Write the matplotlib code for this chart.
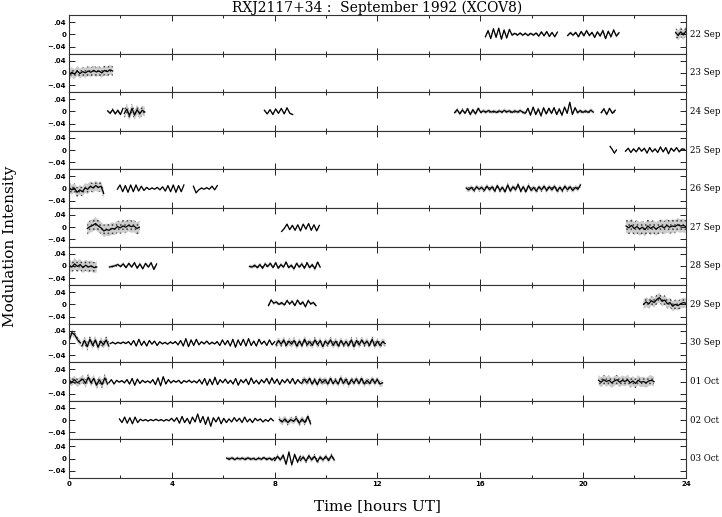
import numpy as np
import matplotlib.pyplot as plt

# -----------------------
# Dados
# valores em milesimos, extremos da oscilacao, espacados igualmente no segmento
# -----------------------
day_labels = ["22 Sep", "23 Sep", "24 Sep", "25 Sep", "26 Sep", "27 Sep",
              "28 Sep", "29 Sep", "30 Sep", "01 Oct", "02 Oct", "03 Oct"]

# (inicio [h], fim [h], ruido, valores)
sep22 = [
    (16.2, 19.0, 4, [-8, 12, -14, 18, -10, 20, -16, 14, -12, 16,
                     -3, 3, -3, 4, -3, 3, -4, 3, -3, 4,
                     -6, 8, -5, 9, -7, 6, -8, 7]),
    (19.4, 21.4, 5, [-4, 5, -3, 6, -8, 9, -5, 12, -4, 6, -10, 8, -6, 12,
                     -14, 10, -8, 14, -6, 5]),
    (23.6, 24.0, 16, [6, -4, 8, -2, 10]),
]
sep23 = [
    (0.0, 1.7, 16, [-6, 2, -4, 6, -2, 4, 0, 6, 2, 8, 3, 6, 0, 8, 4, 10, 6]),
]
sep24 = [
    (1.5, 2.1, 5, [2, -6, 6, -8, 4, -10, 10]),
    (2.15, 2.95, 16, [-6, 8, -14, 10, -12, 6, -8, 4, -2]),
    (7.6, 8.7, 3, [4, -8, 6, -10, 8, -6, 10, -8, 12, -6, -10]),
    (15.0, 20.4, 6, [-4, 6, -8, 5, -6, 9, -10, 6, -8, 10,
                     -3, 2, -2, 3, -2, 1, -3, 2, -2, 3, -1, 2, -3, 2, -2, 3, -2,
                     -6, 10, -12, 14, -10, 8, -14, 12, -8, 10, -6, 12, -10, 8,
                     -12, 14, -6, 30, -10, 12,
                     -4, 3, -3, 2, -3, 4, -2]),
    (20.7, 21.25, 5, [-4, 8, -10, 10, -6, 4]),
]
sep25 = [
    (21.05, 21.3, 2, [12, 2, -10, 0]),
    (21.65, 23.95, 3, [-4, 6, -8, 4, -6, 8, -4, 6, -10, 8, -6, 4, -8, 10,
                       -6, 8, -12, 6, -4, 8, -6, 4, 2]),
]
sep26 = [
    (0.0, 1.35, 16, [4, -4, 2, -12, -4, -10, 2, -2, 8, 2, 10, 4, 8, -16]),
    (1.88, 4.47, 2, [-2, 12, -10, 10, -12, 12, -10, 12, -8, 8, -6, 4, -3,
                     2, -2, 4, -4, 6, -8, 10, -10, 12, -12, 10, -10, 12]),
    (4.84, 5.77, 2, [8, -14, -4, 2, -2, 3, -2, 8, -4, 10]),
    (15.45, 19.9, 8, [2, -4, 4, -6, 6, -2, 4, -6, 8, -4, 6, -8, 10, -6, 4,
                      -10, 12, -8, 6, -4, 14, -8, 6, -10, 10, -6, 4, -8, 6,
                      -4, 8, -6, 6, -4, 8, -8, 4, -6, 8, -4, 6, -6, 4, -2, 12]),
]
sep27 = [
    (0.71, 2.74, 20, [-4, 2, 6, 12, 4, -2, -12, -8, -10, -4, -6, 2, -2, 4,
                      0, 6, 2, 4, -4, 0]),
    (8.27, 9.74, 3, [-14, -4, 10, -8, 6, -10, 8, -12, 10, -6, 12, -10, 8,
                     -12, 6]),
    (21.67, 24.0, 22, [4, -2, 6, -4, 2, -6, 0, -8, 4, -4, 2, -6, 0, 4, -2,
                       6, 0, 4, 2, 8, 4, 6, 2]),
]
sep28 = [
    (0.0, 1.08, 18, [2, -4, 6, -2, 4, -6, 2, -4, 0, -6, -4]),
    (1.57, 3.41, 5, [-4, -2, 0, 4, -2, 6, -6, 8, -4, 10, -8, 6, -10, 8, -4,
                     10, -12, 6]),
    (7.02, 9.77, 6, [-2, -4, 2, -6, 4, -8, 6, -2, 8, -6, 10, -8, 4, -4, 12,
                     -6, 2, -10, 8, -4, 6, -8, 10, -6, 4, -10, 12, -4]),
]
sep29 = [
    (7.76, 9.61, 5, [-4, 14, 4, 8, 0, 6, -2, 12, 2, 10, -4, 14, 0, 8, -8,
                     12, 2, 6, -4]),
    (22.35, 24.0, 16, [0, 8, 2, 12, 6, 16, 22, 10, 14, 2, 6, -6, 0, -4, 2,
                       6, 4]),
]
sep30 = [
    (0.0, 0.45, 10, [6, 34, 26, 10, 0]),
    (0.5, 1.55, 13, [-10, 8, -12, 12, -8, 10, -14, 6, -6, 10, -10]),
    (1.6, 8.0, 3, [-2, 2, -3, 2, -2, 3, -2, 4, -6, 8, -10, 12, -8, 6, -10,
                   8, -4, 6, -8, 4, -3, 2, -4, 3, -2, 4, -6, 8, -10, 14,
                   -12, 10, -8, 12, -6, 4, -3, 6, -4, 2, -3, 4, -8, 10, -6,
                   8, -10, 12, -14, 10, -8, 12, -10, 14, -8, 6, -10, 12, -4,
                   6, -8, 10, -6, 4]),
    (8.05, 12.3, 11, [-6, 8, -4, 10, -8, 6, -4, 8, -10, 6, -8, 12, -6, 4, -8,
                      10, -6, 8, -12, 6, -4, 10, -8, 6, -10, 8, -6, 4, -8, 10,
                      -12, 8, -6, 10, -4, 6, -8, 12, -10, 6, -8, 4, -2]),
]
oct01 = [
    (0.0, 1.5, 13, [4, -2, 6, -4, 2, 8, -6, 14, -4, 10, -12, 6, -10, 12, -8]),
    (1.55, 9.0, 3, [-4, 6, -8, 4, -2, 3, -4, 6, -8, 10, -12, 8, -6, 4, -3,
                    2, -4, 6, -10, 12, -14, 16, -8, 6, -4, 3, -2, 4, -6, 3,
                    -2, 4, -3, 2, -4, 6, -8, 10, -12, 8, -10, 14, -10, 6, -4,
                    8, -6, 4, -8, 10, -12, 6, -4, 8, -10, 12, -6, 4, -8, 6,
                    -4, 10, -8, 12, -6, 8, -10, 6, -4, 8, -6, 10, -8, 6, -4]),
    (9.05, 12.2, 10, [-6, 8, -4, 10, -8, 6, -10, 8, -4, 6, -8, 10, -6, 4, -8,
                      12, -6, 8, -10, 6, -4, 8, -6, 10, -8, 4, -6, 8, -4, 6,
                      -8, -4]),
    (20.6, 22.76, 16, [4, -2, 6, 0, 4, -4, 2, 6, -2, 4, 0, 6, -4, 2, -6, 4,
                       -2, 0, -4, 2, 4, 0]),
]
oct02 = [
    (1.96, 7.95, 2, [4, -8, 10, -10, 8, -12, 10, -8,
                     3, -2, 2, -3, 2, -2, 3, -2, 2, -3, 2, -2,
                     6, -4, 8, -10, 12, -8, 6, -12, 10, -6, 20, -8, 12, -14,
                     10, -20, 8, -6, 10, -12,
                     6, -8, 4, -6, 8, -4, 6, -8, 10, -6, 4, -8, 6, -2, 4,
                     -6, 2, -4, 6, -2]),
    (8.18, 9.4, 10, [2, -6, 4, -8, 2, -4, 6, -10, 4, -8, 12, -12]),
]
oct03 = [
    (6.13, 8.0, 6, [2, -2, 3, -3, 2, -1, 2, -3, 3, -2, 1, -3, 2, -2, 4, -3,
                    2, -4, 3]),
    (8.0, 9.0, 7, [-6, 8, -4, 12, -18, 22, -20, 14, -10, 8]),
    (9.0, 10.32, 8, [-6, 6, -8, 10, -4, 8, -10, 6, -4, 8, -6, 10, -4]),
]

panels = [sep22, sep23, sep24, sep25, sep26, sep27,
          sep28, sep29, sep30, oct01, oct02, oct03]

# -----------------------
# Figura
# -----------------------
plt.rcParams['hatch.linewidth'] = 0.6
plt.rcParams['hatch.color'] = '0.25'

fig, axes = plt.subplots(12, 1, sharex=True, figsize=(7.22, 5.17), dpi=100)
plt.subplots_adjust(left=0.0956, right=0.950, top=0.971, bottom=0.0754, hspace=0)

for ax, segs, lab in zip(axes, panels, day_labels):
    for t0, t1, ruido, vals in segs:
        y = np.array(vals) / 1000.0
        t = np.linspace(t0, t1, len(y))
        r = ruido / 1000.0
        # nuvem de pontos -> faixa pontilhada
        ax.fill_between(t, y - r, y + r, facecolor='0.8', edgecolor='0.25',
                        hatch='....', lw=0)
        ax.plot(t, y, color='black', lw=0.9)

    ax.set_xlim(0, 24)
    ax.set_ylim(-0.063, 0.063)
    ax.set_xticks([0, 4, 8, 12, 16, 20, 24])
    ax.set_xticks([2, 6, 10, 14, 18, 22], minor=True)
    ax.set_yticks([-0.04, 0, 0.04])
    ax.set_yticklabels(['\u2212.04', '0', '.04'])
    ax.tick_params(direction='in', top=True, right=True, length=4, width=0.6,
                   labelsize=5, pad=2)
    ax.tick_params(which='minor', direction='in', top=True, length=2.5, width=0.6)
    for lbl in ax.get_yticklabels():
        lbl.set_fontweight('bold')
    for sp in ax.spines.values():
        sp.set_linewidth(0.8)
        sp.set_color('0.2')
    ax.text(1.006, 0.5, lab, transform=ax.transAxes, va='center', ha='left',
            fontsize=6.2, family='DejaVu Serif')

for lbl in axes[-1].get_xticklabels():
    lbl.set_fontweight('bold')

axes[0].set_title("RXJ2117+34 :  September 1992 (XCOV8)", fontsize=10,
                  family='DejaVu Serif', pad=2)
fig.text(0.523, 0.008, "Time [hours UT]", ha='center', va='bottom',
         fontsize=11, family='DejaVu Serif')
fig.text(0.004, 0.523, "Modulation Intensity", ha='left', va='center',
         rotation=90, fontsize=11, family='DejaVu Serif')

plt.savefig("out.png")
plt.close()
